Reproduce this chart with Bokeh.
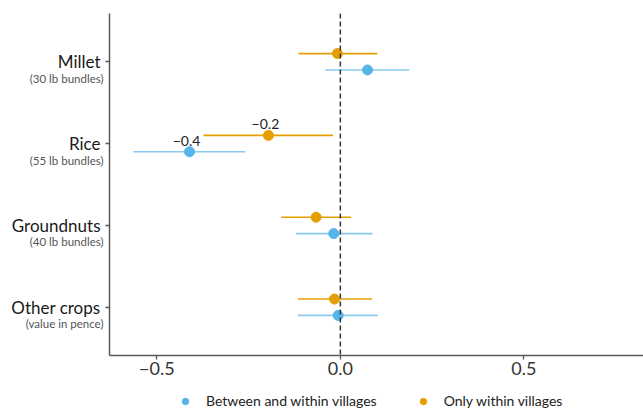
from bokeh.plotting import figure
from bokeh.layouts import row, column
from bokeh.models import (Range1d, FixedTicker, Span, Legend, LegendItem,
                          ColumnDataSource)
from bokeh.core.properties import value
from bokeh.embed import file_html
from bokeh.resources import INLINE

crops = ["Millet", "Rice", "Groundnuts", "Other crops"]
units = ["(30 lb bundles)", "(55 lb bundles)", "(40 lb bundles)", "(value in pence)"]
ypos = [4, 3, 2, 1]

# Between and within villages (blue)
bw_est = [0.074, -0.411, -0.018, -0.006]
bw_lo = [-0.041, -0.564, -0.121, -0.116]
bw_hi = [0.188, -0.259, 0.088, 0.102]

# Only within villages (orange)
ow_est = [-0.008, -0.196, -0.066, -0.016]
ow_lo = [-0.114, -0.373, -0.161, -0.116]
ow_hi = [0.101, -0.020, 0.029, 0.086]

series_names = ["Between and within villages", "Only within villages"]
xticks = [-0.5, 0.0, 0.5]
xtick_labels = ["\u22120.5", "0.0", "0.5"]

dodge = 0.1
BLUE = "#56B4E9"
ORANGE = "#E69F00"
FONT = "Lato"
AXIS_COL = "#595959"

TOP, BOTTOM = 13, 35
H1 = 390
yr = Range1d(0.41, 4.59)

# ---------------- main panel ----------------
p = figure(width=539, height=H1, output_backend="svg", toolbar_location=None,
           x_range=Range1d(-0.629, 0.826), y_range=yr,
           min_border_left=5, min_border_right=0, min_border_top=TOP,
           min_border_bottom=BOTTOM)
p.outline_line_color = None
p.xgrid.visible = False
p.ygrid.visible = False

bw_src = ColumnDataSource(dict(y=[v - dodge for v in ypos], est=bw_est, lo=bw_lo, hi=bw_hi))
ow_src = ColumnDataSource(dict(y=[v + dodge for v in ypos], est=ow_est, lo=ow_lo, hi=ow_hi))

p.segment(x0="lo", x1="hi", y0="y", y1="y", source=bw_src, line_color=BLUE,
          line_width=1.6, line_alpha=0.7)
p.segment(x0="lo", x1="hi", y0="y", y1="y", source=ow_src, line_color=ORANGE,
          line_width=1.6)
p.scatter(x="est", y="y", source=bw_src, size=10, fill_color=BLUE, line_color=BLUE)
p.scatter(x="est", y="y", source=ow_src, size=10, fill_color=ORANGE, line_color=ORANGE)

# value annotations on rice
lab_src = ColumnDataSource(dict(x=[bw_est[1], ow_est[1]],
                                y=[ypos[1] - dodge, ypos[1] + dodge],
                                t=["\u22120.4", "\u22120.2"]))
p.text(x="x", y="y", text="t", source=lab_src, text_font=value(FONT),
       text_font_size="14px", text_color="#222222", text_align="center",
       text_baseline="bottom", y_offset=-6, x_offset=-3)

p.add_layout(Span(location=0, dimension="height", line_dash="5 3",
                  line_color="#333333", line_width=1.5))

for ax in (p.xaxis[0], p.yaxis[0]):
    ax.axis_line_color = AXIS_COL
    ax.axis_line_width = 1.5
    ax.major_tick_line_color = AXIS_COL
    ax.major_tick_line_width = 1.3
    ax.major_tick_in = 0
    ax.major_tick_out = 4
    ax.minor_tick_line_color = None
    ax.major_label_text_font = FONT

p.xaxis.ticker = FixedTicker(ticks=xticks)
p.xaxis.major_label_overrides = {t: l for t, l in zip(xticks, xtick_labels)}
p.xaxis.major_label_text_font_size = "18px"
p.xaxis.major_label_text_color = "#333333"
p.xaxis.major_label_standoff = 2

p.yaxis.ticker = FixedTicker(ticks=ypos)
p.yaxis.major_label_overrides = {y: "" for y in ypos}
p.yaxis.major_label_standoff = 0

# ---------------- y labels panel ----------------
lf = figure(width=104, height=H1, output_backend="svg", toolbar_location=None,
            x_range=Range1d(0, 104), y_range=yr,
            x_axis_location=None, y_axis_location=None,
            min_border_left=0, min_border_right=0, min_border_top=TOP,
            min_border_bottom=BOTTOM)
lf.outline_line_color = None
lf.xgrid.visible = False
lf.ygrid.visible = False
name_src = ColumnDataSource(dict(x=[100] * 4, y=ypos, t=crops))
unit_src = ColumnDataSource(dict(x=[103] * 4, y=ypos, t=units))
lf.text(x="x", y="y", text="t", source=name_src, text_font=value(FONT),
        text_font_size="17px", text_color="#1a1a1a", text_align="right",
        text_baseline="middle")
lf.text(x="x", y="y", text="t", source=unit_src, text_font=value(FONT),
        text_font_size="11.5px", text_color="#555555", text_align="right",
        text_baseline="middle", y_offset=16.5)

# ---------------- legend panel ----------------
lg = figure(width=643, height=409 - H1, output_backend="svg", toolbar_location=None,
            x_range=Range1d(0, 1), y_range=Range1d(0, 1),
            x_axis_location=None, y_axis_location=None,
            min_border_left=0, min_border_right=0, min_border_top=0,
            min_border_bottom=0)
lg.outline_line_color = None
lg.xgrid.visible = False
lg.ygrid.visible = False
# legend-only renderers (their single point lies outside the visible range)
d_bw = lg.scatter(x=[-10], y=[-10], size=9, fill_color=BLUE, line_color=BLUE)
d_ow = lg.scatter(x=[-10], y=[-10], size=9, fill_color=ORANGE, line_color=ORANGE)
legend = Legend(items=[LegendItem(label=series_names[0], renderers=[d_bw]),
                       LegendItem(label=series_names[1], renderers=[d_ow])],
                orientation="horizontal", location=(177, 0),
                label_text_font=FONT, label_text_font_size="14px",
                label_text_color="#222222", border_line_color=None,
                background_fill_alpha=0, spacing=38, padding=0, margin=0,
                glyph_width=16, glyph_height=16, label_height=16,
                label_standoff=13, label_text_baseline="middle")
lg.add_layout(legend, "center")

layout = column(row(lf, p), lg, spacing=0)
open("out.html", "w").write(file_html(layout, INLINE))
